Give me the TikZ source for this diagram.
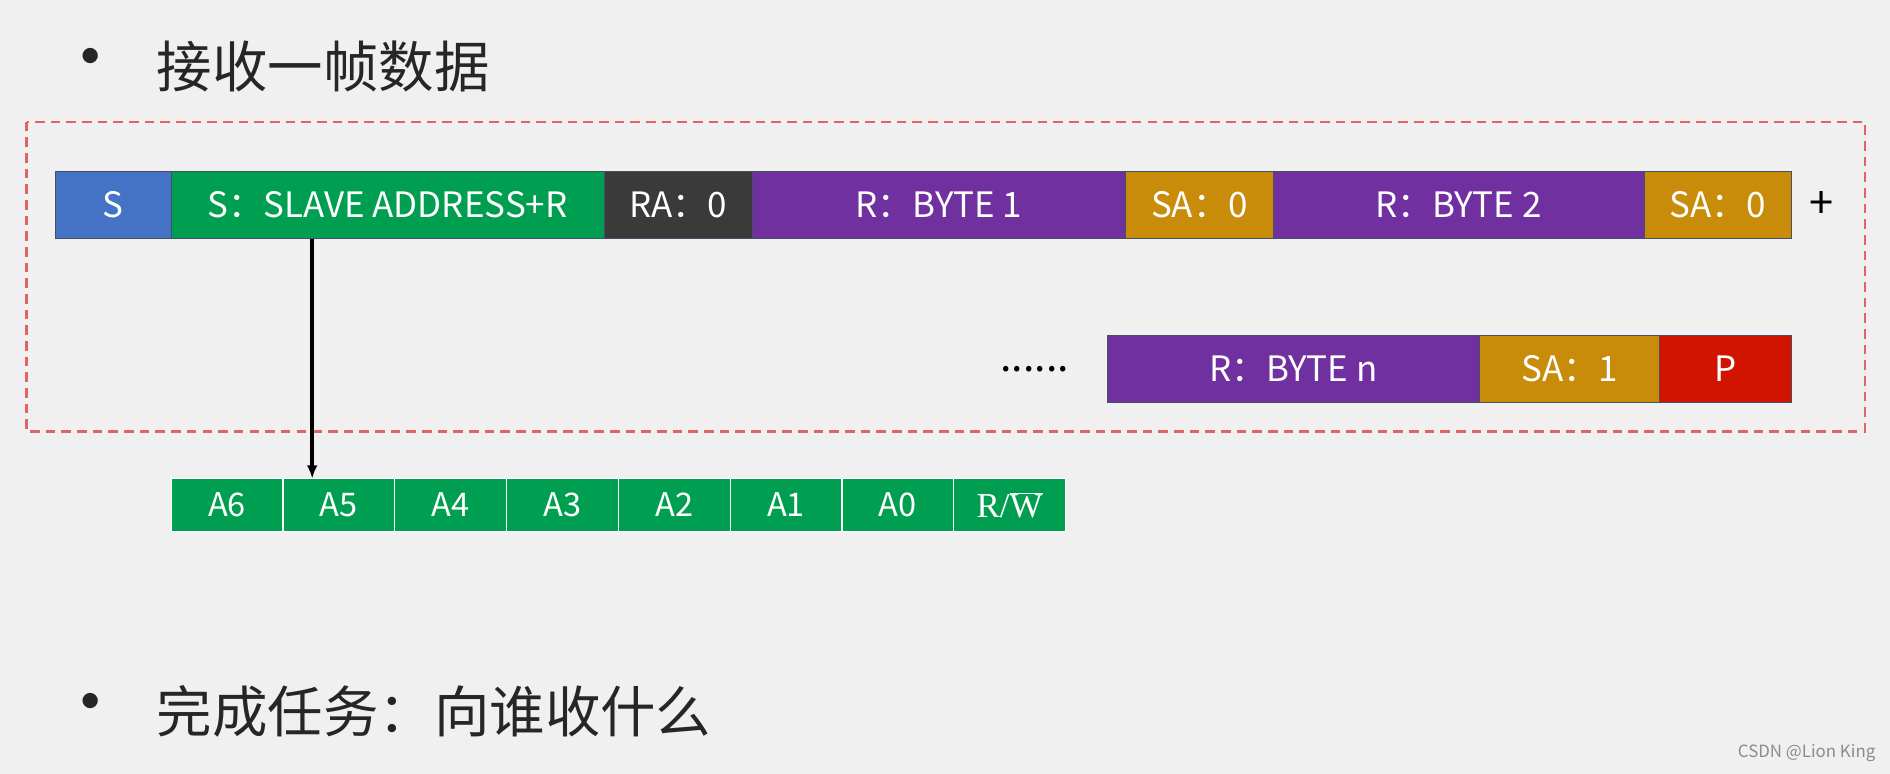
\documentclass[tikz,border=0pt]{standalone}
\usepackage{fontspec}
\setmainfont{Noto Sans CJK SC}
\newfontfamily\bitserif{Liberation Serif}
\usetikzlibrary{positioning,arrows.meta}

\definecolor{slidebg}{RGB}{240,240,240}
\definecolor{startblue}{RGB}{68,114,196}
\definecolor{addrgreen}{RGB}{0,158,80}
\definecolor{ackdark}{RGB}{58,58,58}
\definecolor{bytepurple}{RGB}{112,48,160}
\definecolor{sagold}{RGB}{200,140,10}
\definecolor{stopred}{RGB}{208,20,0}
\definecolor{framered}{RGB}{226,100,100}
\definecolor{fieldline}{RGB}{70,80,100}

\begin{document}
\begin{tikzpicture}[x=1pt,y=-1pt,node distance=0pt,
  field/.style={draw=fieldline,line width=0.6pt,fill=#1,text=white,
    minimum height=56pt,inner sep=0pt,outer sep=0pt,
    font=\fontsize{29}{29}\selectfont},
  bit/.style={draw=white,line width=1pt,fill=addrgreen,text=white,
    minimum width=92.75pt,minimum height=44pt,inner sep=0pt,outer sep=0pt,
    font=\fontsize{27}{27}\selectfont},
  title/.style={text=black!85,inner sep=0pt,font=\fontsize{46}{46}\selectfont}]
\fill[slidebg] (0,0) rectangle (1568,642);
\useasboundingbox (0,0) rectangle (1568,642);

% headings
\node[title,font=\fontsize{60}{60}\selectfont] (dot1) at (75,55) {•};
\node[title,anchor=west] (task1) at (130,55) {接收一帧数据};
\node[title,font=\fontsize{60}{60}\selectfont] (dot2) at (75,590) {•};
\node[title,anchor=west] (task2) at (130,590) {完成任务：向谁收什么};

% frame
\draw[framered,line width=2pt,dash pattern=on 8pt off 5pt] (22,101) rectangle (1547,358);

% first line of the frame
\node[field=startblue,minimum width=96pt,anchor=north west] (st) at (46,142) {S};
\node[field=addrgreen,minimum width=359pt,right=of st] (addr) {S：SLAVE ADDRESS+R};
\node[field=ackdark,minimum width=123pt,right=of addr] (ra) {RA：0};
\node[field=bytepurple,minimum width=310pt,right=of ra] (byte1) {R：BYTE 1};
\node[field=sagold,minimum width=122pt,right=of byte1] (sa1) {SA：0};
\node[field=bytepurple,minimum width=308pt,right=of sa1] (byte2) {R：BYTE 2};
\node[field=sagold,minimum width=122pt,right=of byte2] (sa2) {SA：0};
\node[right=15pt of sa2,font=\fontsize{36}{36}\selectfont,inner sep=0pt] (plus) {+};

% second line
\node[field=bytepurple,minimum width=308pt,anchor=north west] (byten) at (919,278) {R：BYTE n};
\node[field=sagold,minimum width=150pt,right=of byten] (sa3) {SA：1};
\node[field=stopred,minimum width=109pt,right=of sa3] (stop) {P};
\node[left=32pt of byten,font=\fontsize{34}{34}\selectfont,inner sep=0pt] (more) {......};

% address bits
\node[bit,anchor=north west] (a6) at (142,397) {A6};
\node[bit,right=of a6] (a5) {A5};
\node[bit,right=of a5] (a4) {A4};
\node[bit,right=of a4] (a3) {A3};
\node[bit,right=of a3] (a2) {A2};
\node[bit,right=of a2] (a1) {A1};
\node[bit,right=of a1] (a0) {A0};
\node[bit,font=\fontsize{29}{29}\selectfont] [right=of a0] (rw) {{\bitserif R/}$\overline{\hbox{\bitserif W}}$};

\coordinate (tap) at (259,0);
\draw[-{Latex[length=11pt,width=9pt]},line width=3pt] (addr.south -| tap) -- (a5.north -| tap);

\node[text=black!45,font=\fontsize{14}{14}\selectfont,anchor=east,inner sep=0pt] (mark) at (1556,625) {CSDN @Lion King};
\end{tikzpicture}
\end{document}
